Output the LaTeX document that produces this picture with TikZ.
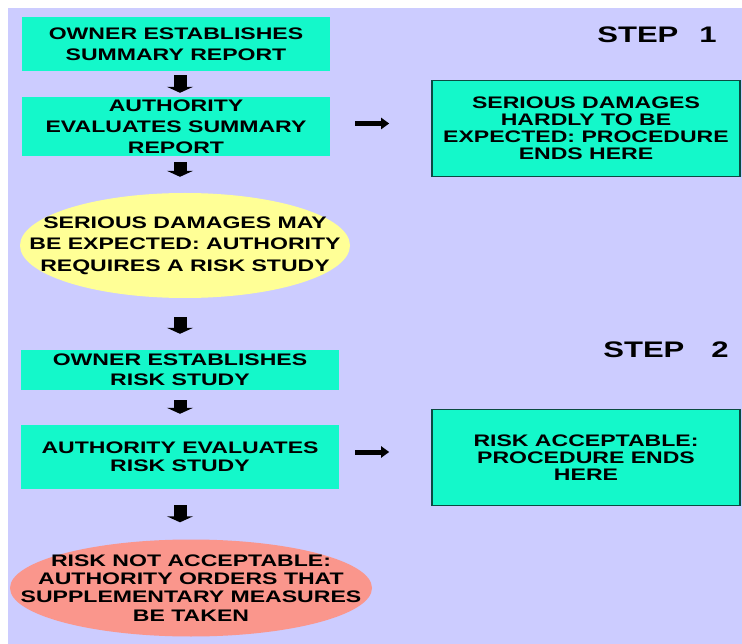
\documentclass[tikz,border=0pt]{standalone}
\usepackage{fontspec}
\setmainfont{Liberation Sans}[FakeStretch=1.38]
\usetikzlibrary{shapes.geometric,arrows.meta}

\definecolor{slidebg}{RGB}{204,204,255}
\definecolor{boxgreen}{RGB}{20,248,202}
\definecolor{boxedge}{RGB}{10,75,65}
\definecolor{ellyellow}{RGB}{255,255,150}
\definecolor{ellred}{RGB}{250,150,140}

\tikzset{
  flowtext/.style={align=center, text=black, font=\bfseries\fontsize{16.7}{21}\selectfont},
  stagebox/.style={flowtext, fill=boxgreen, inner sep=0pt},
  endbox/.style={stagebox, draw=boxedge, line width=1.6pt,
    minimum width=308pt, minimum height=96pt,
    font=\bfseries\fontsize{16.7}{17}\selectfont},
  bubble/.style={ellipse, inner sep=0pt},
  downarrow/.style={line width=13pt, -{Triangle[width=26pt,length=6pt]}},
  sidearrow/.style={line width=5pt, -{Triangle[width=11pt,length=8pt]}},
  steplabel/.style={text=black, font=\bfseries\fontsize{22.5}{22.5}\selectfont}
}

\begin{document}
\begin{tikzpicture}[x=1pt, y=-1pt]
    % Slide background (white margin top and left)
    \useasboundingbox (0,0) rectangle (742,644);
    \fill[white] (0,0) rectangle (742,644);
    \fill[slidebg] (8,8) rectangle (742,644);

    % Step 1: left column
    \node[stagebox, minimum width=308pt, minimum height=54pt] (owner1) at (176,44)
        {OWNER ESTABLISHES\\SUMMARY REPORT};
    \node[stagebox, minimum width=308pt, minimum height=59pt] (auth1) at (176,126.5)
        {AUTHORITY\\EVALUATES SUMMARY\\REPORT};
    \node[bubble, fill=ellyellow, minimum width=330pt, minimum height=105pt,
          label={[flowtext, font=\bfseries\fontsize{16.7}{21.5}\selectfont]center:SERIOUS DAMAGES MAY\\BE EXPECTED: AUTHORITY\\REQUIRES A RISK STUDY}]
          (study1) at (185,245.5) {};

    % Step 1: right column
    \node[steplabel] (step1) at (657,34.5) {STEP\hspace{21pt}1};
    \node[endbox] (ends1) at (586,128.5)
        {SERIOUS DAMAGES\\HARDLY TO BE\\EXPECTED: PROCEDURE\\ENDS HERE};

    % Step 2: left column
    \node[stagebox, minimum width=318pt, minimum height=40pt,
          font=\bfseries\fontsize{16.7}{20}\selectfont] (owner2) at (180,370)
        {OWNER ESTABLISHES\\RISK STUDY};
    \node[stagebox, minimum width=318pt, minimum height=64pt,
          font=\bfseries\fontsize{16.7}{18}\selectfont] (auth2) at (180,457)
        {AUTHORITY EVALUATES\\RISK STUDY};
    \node[bubble, fill=ellred, minimum width=362pt, minimum height=97pt,
          label={[flowtext, font=\bfseries\fontsize{16.7}{18.3}\selectfont]center:RISK NOT ACCEPTABLE:\\AUTHORITY ORDERS THAT\\SUPPLEMENTARY MEASURES\\BE TAKEN}]
          (measures) at (191,588) {};

    % Step 2: right column
    \node[steplabel] (step2) at (666,350) {STEP\hspace{27pt}2};
    \node[endbox] (ends2) at (586,457.5)
        {RISK ACCEPTABLE:\\PROCEDURE ENDS\\HERE};

    % Down arrows
    \draw[downarrow, shorten <=4pt, shorten >=4pt] ([xshift=4pt]owner1.south) -- ([xshift=4pt]auth1.north);
    \draw[downarrow, shorten <=6pt, shorten >=16pt] ([xshift=4pt]auth1.south) -- ([xshift=4pt]auth1.south |- study1.north);
    \draw[downarrow, shorten <=19pt, shorten >=16pt] (owner2.north |- study1.south) -- (owner2.north);
    \draw[downarrow, shorten <=10pt, shorten >=11pt] (owner2.south) -- (auth2.north);
    \draw[downarrow, shorten <=16pt, shorten >=17pt] (auth2.south) -- (auth2.south |- measures.north);

    % Side arrows to the end boxes
    \draw[sidearrow, shorten <=25pt, shorten >=42pt] ([yshift=3pt]auth1.east) -- ([yshift=3pt]auth1.east -| ends1.west);
    \draw[sidearrow, shorten <=16pt, shorten >=42pt] ([yshift=5pt]auth2.east) -- ([yshift=5pt]auth2.east -| ends2.west);
\end{tikzpicture}
\end{document}
